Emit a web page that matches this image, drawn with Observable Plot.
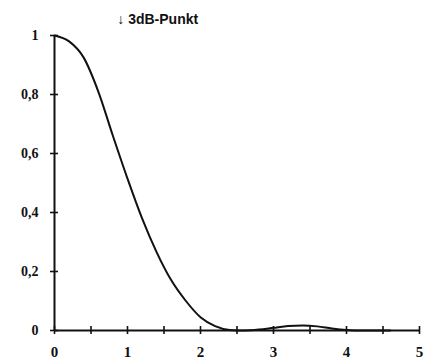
<!DOCTYPE html>
<html>
<head>
<meta charset="utf-8">
<script src="https://cdn.jsdelivr.net/npm/d3@7"></script>
<script src="https://cdn.jsdelivr.net/npm/@observablehq/plot@0.6"></script>
<style>
  html, body { margin: 0; padding: 0; background: #fff; }
  #chart svg { display: block; }
</style>
</head>
<body>
<div id="chart"></div>
<script>
// Curve values
const xs = [0, 0.2, 0.4, 0.6, 0.8, 1.0, 1.2, 1.4, 1.6, 1.8, 2.0, 2.2, 2.4, 2.6, 2.8, 3.0, 3.2, 3.4, 3.6, 3.8, 4.0, 4.2, 4.6];
const ys = [1.0, 0.98, 0.925, 0.81, 0.66, 0.515, 0.38, 0.265, 0.17, 0.1, 0.045, 0.015, 0.002, 0.0, 0.003, 0.009, 0.015, 0.017, 0.014, 0.007, 0.002, 0.0, 0.0];

// Axis ticks
const xTicks = [0, 0.5, 1, 1.5, 2, 2.5, 3, 3.5, 4, 4.5, 5];
const xLabels = [0, 1, 2, 3, 4, 5];
const yTicks = [0, 0.2, 0.4, 0.6, 0.8, 1];

// Annotation
const noteText = ["\u2193 3dB-Punkt"];
const noteX = [0.86];
const noteY = [1.055];

const curve = xs.map((x, i) => ({x, y: ys[i]}));
const fmt = d => String(d).replace(".", ",");

const chart = Plot.plot({
  width: 424,
  height: 361,
  marginLeft: 54,
  marginRight: 5,
  marginTop: 35,
  marginBottom: 31,
  x: {domain: [0, 5], label: null},
  y: {domain: [0, 1], label: null},
  style: {background: "#fff", color: "#111"},
  marks: [
    Plot.axisX(xLabels, {tickSize: 0, tickPadding: 16, tickFormat: fmt, label: null,
      fontFamily: "Liberation Serif", fontSize: 15, fontWeight: "bold"}),
    Plot.axisY(yTicks, {tickSize: 0, tickPadding: 16, tickFormat: fmt, label: null,
      fontFamily: "Liberation Serif", fontSize: 14, fontWeight: "bold", letterSpacing: "1.5px"}),
    Plot.ruleY([0], {x1: 0, x2: 5, stroke: "#111", strokeWidth: 2}),
    Plot.ruleX([0], {y1: 0, y2: 1, stroke: "#111", strokeWidth: 2}),
    Plot.ruleX(xTicks, {x: d => d, y1: 0, y2: 0, insetTop: -4, insetBottom: -4, stroke: "#111", strokeWidth: 1.6}),
    Plot.ruleY(yTicks, {y: d => d, x1: 0, x2: 0, insetLeft: -4, insetRight: -4, stroke: "#111", strokeWidth: 1.6}),
    Plot.line(curve, {x: "x", y: "y", curve: "monotone-x", stroke: "#111", strokeWidth: 2}),
    Plot.text(noteText, {x: noteX, y: noteY, text: d => d, textAnchor: "start",
      fontFamily: "Liberation Sans", fontSize: 14, fontWeight: "bold", fill: "#111",
      letterSpacing: "0.3px"})
  ]
});
document.getElementById("chart").appendChild(chart);
</script>
</body>
</html>
